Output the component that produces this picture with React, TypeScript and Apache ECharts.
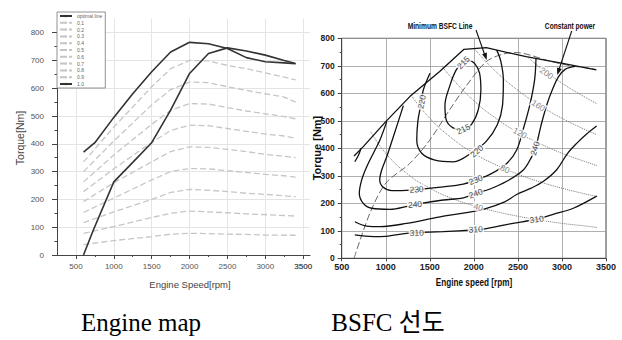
import React, { useEffect, useRef } from "react";
import * as echarts from "echarts";

// ---------- Left chart: Engine map ----------
const leftRpm = [600, 1000, 1500, 1750, 2000, 2250, 2500, 2750, 3000, 3250, 3400];
const loadNames = ["0.1", "0.2", "0.3", "0.4", "0.5", "0.6", "0.7", "0.8", "0.9"];
const load01 = [37, 52, 66, 75, 78, 77, 75, 74, 72, 71, 71];
const load02 = [78, 102, 135, 150, 158, 155, 152, 148, 145, 142, 140];
const load03 = [116, 155, 200, 225, 236, 233, 228, 222, 218, 213, 210];
const load04 = [153, 205, 270, 300, 311, 310, 303, 297, 290, 285, 280];
const load05 = [192, 260, 335, 372, 389, 387, 380, 372, 362, 355, 350];
const load06 = [228, 310, 405, 448, 467, 465, 455, 445, 435, 428, 420];
const load07 = [263, 360, 470, 520, 545, 543, 530, 518, 508, 498, 490];
const load08 = [300, 410, 540, 595, 622, 620, 605, 592, 580, 568, 550];
const load09 = [335, 460, 605, 670, 700, 698, 682, 670, 655, 640, 630];
const loadValues = [load01, load02, load03, load04, load05, load06, load07, load08, load09];

const fullRpm = [600, 750, 1000, 1250, 1500, 1750, 2000, 2250, 2500, 2750, 3000, 3250, 3400];
const fullTorque = [370, 404, 495, 580, 659, 730, 765, 760, 743, 710, 695, 691, 688];
const optRpm = [600, 730, 1000, 1250, 1500, 1750, 2000, 2250, 2500, 2750, 3000, 3250, 3400];
const optTorque = [0, 90, 263, 333, 404, 521, 653, 725, 745, 734, 719, 700, 689];
const leftXTicks = [500, 1000, 1500, 2000, 2500, 3000, 3500];
const leftYTicks = [0, 100, 200, 300, 400, 500, 600, 700, 800];

// ---------- Right chart: BSFC map ----------
const fullLoadR = [[640, 372], [745, 406], [1000, 497], [1273, 588], [1612, 679], [1888, 760], [2140, 766], [2593, 733], [3008, 709], [3390, 685]];
const c215 = [[1880, 714], [1800, 685], [1725, 625], [1672, 555], [1685, 505], [1760, 475], [1880, 467], [1975, 488], [2050, 540], [2080, 612], [2065, 673], [2010, 708], [1940, 720], [1880, 714]];
const c220 = [[1502, 673], [1426, 612], [1400, 560], [1365, 500], [1352, 430], [1408, 382], [1559, 357], [1767, 351], [1994, 388], [2140, 425], [2265, 485], [2325, 555], [2335, 648], [2305, 718], [2259, 757]];
const c230 = [[1200, 555], [1086, 442], [1011, 369], [954, 321], [932, 285], [972, 258], [1068, 246], [1275, 248], [1653, 260], [1880, 270], [2021, 285], [2183, 305], [2373, 345], [2486, 394], [2561, 470], [2637, 560], [2690, 650], [2705, 725]];
const c240 = [[1011, 497], [934, 430], [878, 394], [784, 333], [727, 285], [700, 236], [745, 200], [840, 182], [1048, 178], [1256, 190], [1400, 200], [1653, 212], [1880, 220], [2021, 236], [2183, 252], [2373, 280], [2561, 321], [2656, 369], [2700, 400], [2760, 480], [2830, 560], [2900, 620], [2960, 660], [3040, 688], [3150, 698]];
const cLeft = [[649, 351], [690, 375], [720, 400]];
const c250 = [[649, 133], [784, 117], [935, 115], [1237, 127], [1616, 151], [1880, 164], [2126, 180], [2350, 205], [2486, 232], [2650, 255], [2790, 280], [2940, 322], [3060, 380], [3167, 418], [3280, 452], [3394, 481]];
const c310 = [[649, 85], [859, 79], [1000, 80], [1237, 91], [1351, 93], [1653, 97], [1994, 103], [2108, 106], [2410, 125], [2713, 142], [2900, 160], [3129, 182], [3394, 226]];
const minBsfc = [[640, 0], [820, 164], [1000, 273], [1273, 345], [1500, 430], [1725, 540], [1907, 624], [2140, 715], [2335, 743], [2500, 748], [2637, 739], [2850, 718], [3100, 700], [3319, 691], [3390, 686]];
const p40 = [[830, 460], [1000, 382], [1250, 306], [1500, 255], [1750, 218], [2000, 191], [2250, 170], [2500, 153], [2750, 139], [3000, 127], [3250, 118], [3400, 112]];
const p80 = [[1290, 592], [1500, 509], [1750, 437], [2000, 382], [2250, 340], [2500, 306], [2750, 278], [3000, 255], [3250, 235], [3400, 225]];
const p120 = [[1640, 699], [1750, 655], [2000, 573], [2250, 509], [2500, 458], [2750, 417], [3000, 382], [3250, 353], [3400, 337]];
const p160 = [[2000, 764], [2250, 679], [2500, 611], [2750, 556], [3000, 509], [3250, 470], [3400, 449]];
const p200 = [[2620, 729], [2750, 694], [3000, 637], [3250, 588], [3400, 562]];
const contourLabels: [number, number, string, number][] = [
  [1880, 712, "215", 45], [1880, 470, "215", 25], [1408, 569, "220", 78], [2032, 390, "220", 42],
  [1350, 251, "230", 3], [2021, 285, "230", 22], [1332, 196, "240", 5], [2021, 236, "240", 20],
  [2694, 400, "240", 72], [1351, 93, "310", 2], [2021, 105, "310", 3], [2713, 142, "310", 8],
];
const powerLabels: [number, number, string, number][] = [
  [2826, 673, "200", -35], [2731, 556, "160", -32], [2524, 456, "120", -28], [2353, 325, "80", -23], [2051, 186, "40", -15],
];

const SANS = "'Liberation Sans', Arial, sans-serif";
const plain = (v: number) => String(v);

export default function App() {
  const ref = useRef<HTMLDivElement>(null);
  useEffect(() => {
    if (!ref.current) return;
    const chart = echarts.init(ref.current, undefined, { renderer: "svg" });
    const leftSeries: any[] = [];
    leftSeries.push({
      name: "optimal line", type: "line", xAxisIndex: 0, yAxisIndex: 0, symbol: "none",
      data: optRpm.map((r, i) => [r, optTorque[i]]),
      lineStyle: { color: "#333", width: 1.6 }, itemStyle: { color: "#333" }, z: 4,
    });
    loadNames.forEach((n, k) => {
      leftSeries.push({
        name: n, type: "line", xAxisIndex: 0, yAxisIndex: 0, symbol: "none",
        data: leftRpm.map((r, i) => [r, loadValues[k][i]]),
        lineStyle: { color: "#c6c6c6", width: 1.3, type: [6, 3] }, itemStyle: { color: "#c6c6c6" }, z: 3,
      });
    });
    leftSeries.push({
      name: "1.0", type: "line", xAxisIndex: 0, yAxisIndex: 0, symbol: "none",
      data: fullRpm.map((r, i) => [r, fullTorque[i]]),
      lineStyle: { color: "#333", width: 1.6 }, itemStyle: { color: "#333" }, z: 4,
    });

    const contour = (name: string, data: number[][], smooth: number | boolean = 0.35) => ({
      name, type: "line", xAxisIndex: 1, yAxisIndex: 1, symbol: "none", smooth, data,
      lineStyle: { color: "#111", width: 1.3 }, z: 3, silent: true,
    });
    const power = (name: string, data: number[][]) => ({
      name, type: "line", xAxisIndex: 1, yAxisIndex: 1, symbol: "none", smooth: true, data,
      lineStyle: { color: "#777", width: 1, type: "dotted" }, z: 2, silent: true,
    });
    const rightSeries: any[] = [
      { name: "Full load", type: "line", xAxisIndex: 1, yAxisIndex: 1, symbol: "none", data: fullLoadR, lineStyle: { color: "#111", width: 1.3 }, z: 4 },
      contour("215 g/kWh", c215, 0.4),
      contour("220 g/kWh", c220),
      contour("230 g/kWh", c230),
      contour("240 g/kWh", c240),
      contour("edge", cLeft),
      contour("250 g/kWh", c250),
      contour("310 g/kWh", c310),
      { name: "Minimum BSFC Line", type: "line", xAxisIndex: 1, yAxisIndex: 1, symbol: "none", smooth: 0.3, data: minBsfc, lineStyle: { color: "#666", width: 1, type: [7, 3] }, z: 2 },
      power("40 kW", p40), power("80 kW", p80), power("120 kW", p120), power("160 kW", p160), power("200 kW", p200),
      {
        name: "contour labels", type: "scatter", xAxisIndex: 1, yAxisIndex: 1, symbolSize: 0, z: 6, silent: true,
        data: contourLabels.map((l) => ({ value: [l[0], l[1]], label: { formatter: l[2], rotate: l[3] } })),
        label: { show: true, position: "inside", fontSize: 8.5, color: "#111", backgroundColor: "#fff", padding: [0, 1], fontFamily: SANS },
      },
      {
        name: "power labels", type: "scatter", xAxisIndex: 1, yAxisIndex: 1, symbolSize: 0, z: 6, silent: true,
        data: powerLabels.map((l) => ({ value: [l[0], l[1]], label: { formatter: l[2], rotate: l[3] } })),
        label: { show: true, position: "inside", fontSize: 8.5, color: "#666", backgroundColor: "#fff", padding: [0, 1], fontFamily: SANS },
      },
    ];

    const txt = (text: string, x: number, y: number, o: any = {}) => ({
      type: "text", x, y, rotation: o.rotation || 0, scaleX: o.scaleX || 1, z: 20, silent: true,
      style: {
        text, fill: o.color || "#111", fontSize: o.size || 10, fontWeight: o.weight || "normal",
        fontFamily: o.family || SANS, textAlign: "center", textVerticalAlign: "middle", align: "center", verticalAlign: "middle",
      },
    });

    const graphics: any[] = [
      txt("Torque[Nm]", 20, 138, { rotation: Math.PI / 2, size: 10.5, color: "#444" }),
      txt("Engine Speed[rpm]", 190, 284, { size: 9.5, color: "#444" }),
      txt("Torque [Nm]", 317, 148, { rotation: Math.PI / 2, size: 11, weight: "bold" }),
      txt("Engine speed [rpm]", 474, 282, { size: 10.5, weight: "bold", scaleX: 0.78 }),
      txt("Minimum BSFC Line", 440, 26, { size: 9, weight: "bold", scaleX: 0.74 }),
      txt("Constant power", 570, 26, { size: 9, weight: "bold", scaleX: 0.74 }),
      { type: "line", z: 20, silent: true, shape: { x1: 476, y1: 30, x2: 485.5, y2: 57 }, style: { stroke: "#111", lineWidth: 1.1 } },
      { type: "polygon", z: 20, silent: true, shape: { points: [[486.7, 60], [482.1, 54.2], [486.9, 52.6]] }, style: { fill: "#111" } },
      { type: "line", z: 20, silent: true, shape: { x1: 571.7, y1: 31, x2: 558.2, y2: 72 }, style: { stroke: "#111", lineWidth: 1.1 } },
      { type: "polygon", z: 20, silent: true, shape: { points: [[557.3, 75], [557.0, 67.6], [561.8, 69.0]] }, style: { fill: "#111" } },
      txt("Engine map", 141, 322, { size: 25, color: "#000", family: "'Liberation Serif', 'Times New Roman', serif" }),
      txt("BSFC 선도", 388, 322, { size: 25, color: "#000", family: "'Liberation Serif', 'Noto Sans CJK KR', serif" }),
    ];

    chart.setOption({
      animation: false,
      backgroundColor: "#fff",
      legend: {
        data: ["optimal line", ...loadNames, "1.0"], left: 57, top: 12, orient: "vertical",
        itemWidth: 12, itemHeight: 3, itemGap: 1.8, padding: [1.5, 3, 1.5, 2],
        borderColor: "#777", borderWidth: 0.8, backgroundColor: "#fff", z: 10,
        textStyle: { fontSize: 5, color: "#666", fontFamily: SANS },
      },
      grid: [
        { left: 57, top: 18.7, width: 253, height: 236.3 },
        { left: 341.7, top: 38.3, width: 264.3, height: 220, show: true, borderColor: "#444", borderWidth: 1, backgroundColor: "transparent" },
      ],
      xAxis: [
        {
          gridIndex: 0, type: "value", min: 250, max: 3590,
          axisLine: { lineStyle: { color: "#444" } },
          axisTick: { length: 4, lineStyle: { color: "#444" }, customValues: leftXTicks },
          minorTick: { show: true, splitNumber: 2, length: 2, lineStyle: { color: "#444" } },
          splitLine: { lineStyle: { color: "#e4e4e4" } },
          axisLabel: { fontSize: 8, color: "#555", margin: 7, fontFamily: SANS, formatter: plain, customValues: leftXTicks },
        },
        {
          gridIndex: 1, type: "value", min: 500, max: 3500, interval: 500,
          axisLine: { lineStyle: { color: "#444" } },
          axisTick: { length: 3, lineStyle: { color: "#444" } },
          splitLine: { lineStyle: { color: "#9a9a9a", width: 0.8 } },
          axisLabel: { fontSize: 9, color: "#222", margin: 4, fontFamily: SANS, fontWeight: "bold", formatter: plain },
        },
      ],
      yAxis: [
        {
          gridIndex: 0, type: "value", min: 0, max: 850, interval: 100,
          axisLine: { show: true, lineStyle: { color: "#444" } },
          axisTick: { show: true, length: 5, lineStyle: { color: "#444" }, customValues: leftYTicks },
          minorTick: { show: true, splitNumber: 2, length: 2.5, lineStyle: { color: "#444" } },
          splitLine: { lineStyle: { color: "#e4e4e4" } },
          axisLabel: { fontSize: 8, color: "#555", margin: 13, fontFamily: SANS, formatter: plain, customValues: leftYTicks },
        },
        {
          gridIndex: 1, type: "value", min: 0, max: 800, interval: 100,
          axisLine: { show: true, lineStyle: { color: "#444" } },
          axisTick: { show: true, length: 4, lineStyle: { color: "#444" } },
          minorTick: { show: true, splitNumber: 2, length: 2, lineStyle: { color: "#444" } },
          splitLine: { lineStyle: { color: "#9a9a9a", width: 0.8 } },
          axisLabel: { fontSize: 8.5, color: "#222", margin: 7, fontFamily: SANS, fontWeight: "bold", formatter: plain },
        },
      ],
      series: [...leftSeries, ...rightSeries],
      graphic: graphics,
    });

    // The last tick label of the left x axis is dropped by the axis layout; place it through the grid's scales.
    const lastTick = leftXTicks[leftXTicks.length - 1];
    let pt: any = null;
    try {
      pt = chart.convertToPixel({ gridIndex: 0 }, [lastTick, 0]);
    } catch (e) {
      pt = null;
    }
    const okPt = Array.isArray(pt) && isFinite(pt[0]) && isFinite(pt[1]);
    const lx = okPt ? pt[0] : 303.2;
    const ly = okPt ? pt[1] : 255;
    chart.setOption({
      graphic: [...graphics, txt(String(lastTick), lx, ly + 11, { size: 8, color: "#555" })],
    });
    return () => chart.dispose();
  }, []);
  return <div ref={ref} style={{ position: "fixed", left: 0, top: 0, width: 622, height: 340 }} />;
}
